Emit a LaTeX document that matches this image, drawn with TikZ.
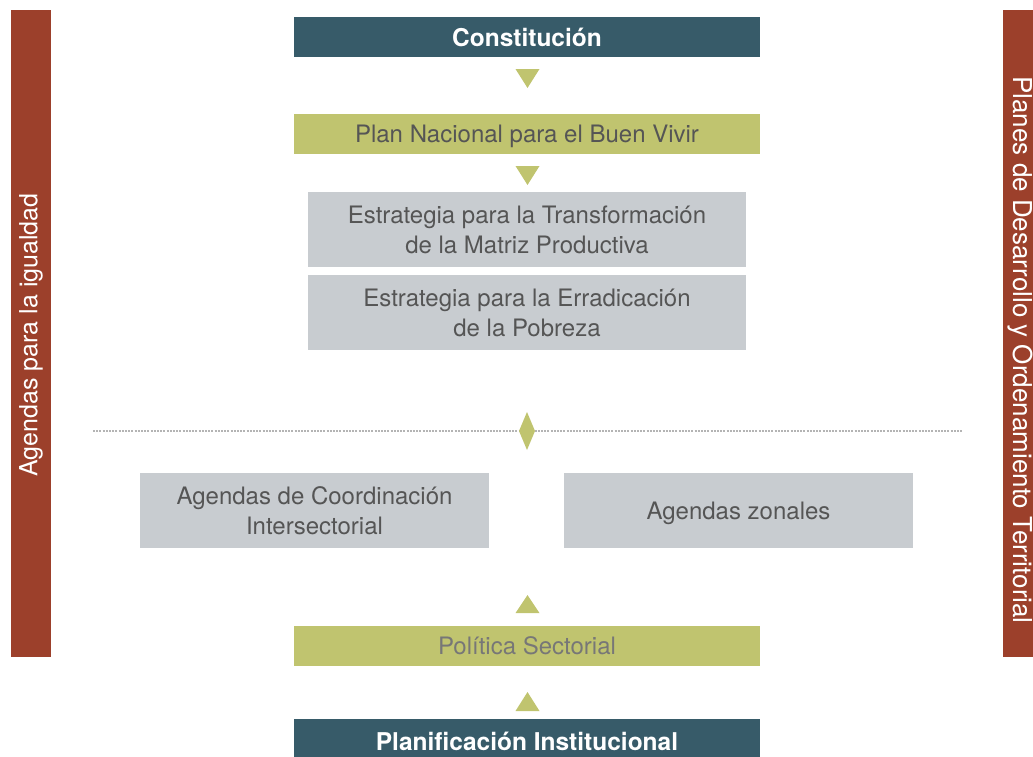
\documentclass[tikz,border=0pt]{standalone}
\usepackage{fontspec}
\setmainfont{TeX Gyre Heros}
\definecolor{cTeal}{HTML}{375B69}
\definecolor{cOlive}{HTML}{C0C46F}
\definecolor{cGrayBox}{HTML}{C8CCD0}
\definecolor{cRust}{HTML}{9C402B}
\definecolor{cText}{HTML}{555555}
\definecolor{cTextLight}{HTML}{777777}
\definecolor{cDots}{HTML}{B4B4B4}
\begin{document}
\begin{tikzpicture}[x=1pt,y=-1pt,
  basebox/.style={inner sep=0pt, outer sep=0pt, align=center, font=\fontsize{24}{30}\selectfont},
  darkbox/.style={basebox, fill=cTeal, text=white, font=\fontsize{24.5}{30}\selectfont\bfseries, minimum width=466pt, minimum height=40pt, text depth=0pt},
  olivebox/.style={basebox, fill=cOlive, text=cText, minimum width=466pt, minimum height=40pt, text depth=0pt},
  graybox/.style={basebox, fill=cGrayBox, text=cText, minimum height=75pt},
  sidebar/.style={fill=cRust},
  sidetext/.style={text=white, font=\fontsize{25}{30}\selectfont, inner sep=0pt},
  tri/.style={fill=cOlive}
]
\useasboundingbox (0,0) rectangle (1033,756);
% side bars
\fill[sidebar] (11,10) rectangle (51,657);
\node[sidetext, rotate=90] (lefttxt) at (31,335) {Agendas para la igualdad};
\fill[sidebar] (1003,10) rectangle (1043,657);
\node[sidetext, rotate=-90, font=\fontsize{26}{30}\selectfont] (righttxt) at (1020,350) {Planes de Desarrollo y Ordenamiento Territorial};
% top chain
\node[darkbox] (con) at (527,37) {Constitución};
\fill[tri] (515.5,69) -- (539.5,69) -- (527.5,88) -- cycle;
\node[olivebox] (pnbv) at (527,134) {Plan Nacional para el Buen Vivir};
\fill[tri] (515.5,166) -- (539.5,166) -- (527.5,185) -- cycle;
\node[graybox, minimum width=438pt] (etmp) at (527,229.5) {Estrategia para la Transformación\\de la Matriz Productiva};
\node[graybox, minimum width=438pt] (eep) at (527,312.5) {Estrategia para la Erradicación\\de la Pobreza};
% dotted divider
\coordinate (dl) at (93,431);
\coordinate (dr) at (962,431);
\draw[cDots, line width=2pt, dash pattern=on 2pt off 1.2pt] (dl) -- (dr);
\fill[cOlive] (527,412) -- (535,431) -- (527,450) -- (519,431) -- cycle;
% agendas
\node[graybox, minimum width=349pt] (aci) at (314.5,510.5) {Agendas de Coordinación\\Intersectorial};
\node[graybox, minimum width=349pt, text depth=0pt] (az) at (738.5,510.5) {Agendas zonales};
% bottom chain
\fill[tri] (515.5,613) -- (539.5,613) -- (527.5,595) -- cycle;
\node[olivebox, text=cTextLight] (ps) at (527,646) {Política Sectorial};
\fill[tri] (515.5,711) -- (539.5,711) -- (527.5,692) -- cycle;
\node[darkbox, minimum height=44pt] (pi) at (527,741) {Planificación Institucional};
\end{tikzpicture}
\end{document}
